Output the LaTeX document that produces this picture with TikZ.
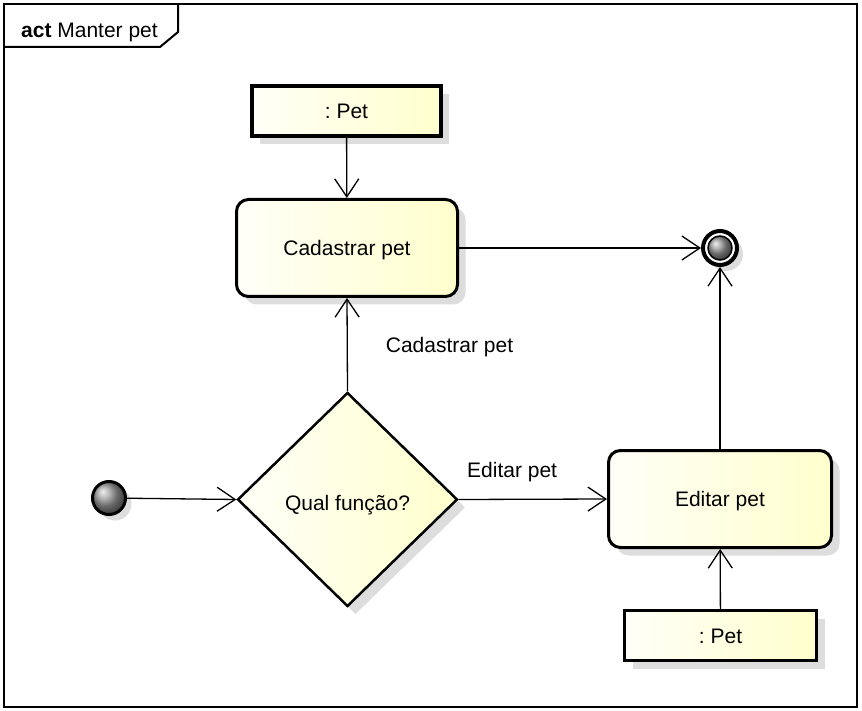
\documentclass[tikz,border=0pt]{standalone}
\usepackage{fontspec}
\setmainfont{Liberation Sans}
\usetikzlibrary{arrows.meta,shapes.geometric,shadows}
\definecolor{fillL}{RGB}{255,255,248}
\definecolor{fillR}{RGB}{255,255,205}
\definecolor{shad}{RGB}{221,221,221}
\begin{document}
\frenchspacing
\begin{tikzpicture}[x=1pt,y=-1pt,
  every node/.style={font=\fontsize{21}{25}\selectfont,text height=15pt,text depth=0pt},
  sh/.style={drop shadow={shadow xshift=8pt,shadow yshift=-8pt,fill=shad,opacity=1}},
  objbox/.style={draw,line width=3.3pt,left color=fillL,right color=fillR,sh,
    minimum width=189pt,minimum height=50pt,inner sep=0pt},
  actbox/.style={draw,line width=3pt,rounded corners=12pt,left color=fillL,right color=fillR,sh,
    minimum width=221pt,minimum height=97pt,inner sep=0pt},
  decbox/.style={draw,diamond,line width=2.5pt,left color=fillL,right color=fillR,sh,
    minimum width=220pt,minimum height=214pt,inner sep=0pt},
  ininode/.style={circle,draw,line width=3pt,ball color=gray!80,minimum size=33pt,inner sep=0pt,
    drop shadow={shadow xshift=6pt,shadow yshift=-6pt,fill=shad,opacity=1}},
  finnode/.style={circle,draw,line width=4pt,fill=white,minimum size=34pt,inner sep=0pt,
    drop shadow={shadow xshift=6pt,shadow yshift=-6pt,fill=shad,opacity=1}},
  flow/.style={line width=1.3pt,-{Straight Barb[length=18pt,width=24pt,line width=1.3pt]}},
  lbl/.style={inner sep=0pt}
]
\useasboundingbox (0,0) rectangle (862,711);
\fill[white] (0,0) rectangle (862,711);
% frame
\draw[line width=2pt] (4,4) rectangle (857,707);
\draw[line width=2pt] (178,4) -- (178,32) -- (160,47) -- (4,47);
\node[anchor=west,inner sep=0pt] (title) at (21,30) {\textbf{act} Manter pet};
% nodes
\node[objbox] (pet1) at (346.5,111) {: Pet};
\node[actbox] (cad) at (347,248) {Cadastrar pet};
\node[finnode] (fin) at (720,248) {};
\fill[ball color=gray!80] (fin) circle (12);
\draw[line width=1.5pt] (fin) circle (12);
\node[ininode] (ini) at (109,498) {};
\node[decbox] (dia) at (347.5,499.5) {\raisebox{-3pt}{Qual função?}};
\node[actbox, minimum width=223pt] (edit) at (720,499) {Editar pet};
\node[objbox, minimum width=192pt] (pet2) at (720.5,635.5) {: Pet};
% connectors
\draw[flow] (pet1) -- (cad);
\draw[flow] (cad.east) -- (fin);
\draw[flow] (edit) -- (fin);
\draw[flow] (ini) -- (dia.west);
\draw[flow] (dia.north) -- node[lbl,anchor=west,xshift=38pt] {Cadastrar pet} (cad.south);
\draw[flow] (dia.east) -- node[lbl,pos=0.36,yshift=29pt] {Editar pet} (edit.west);
\draw[flow] (pet2) -- (edit);
\end{tikzpicture}
\end{document}
